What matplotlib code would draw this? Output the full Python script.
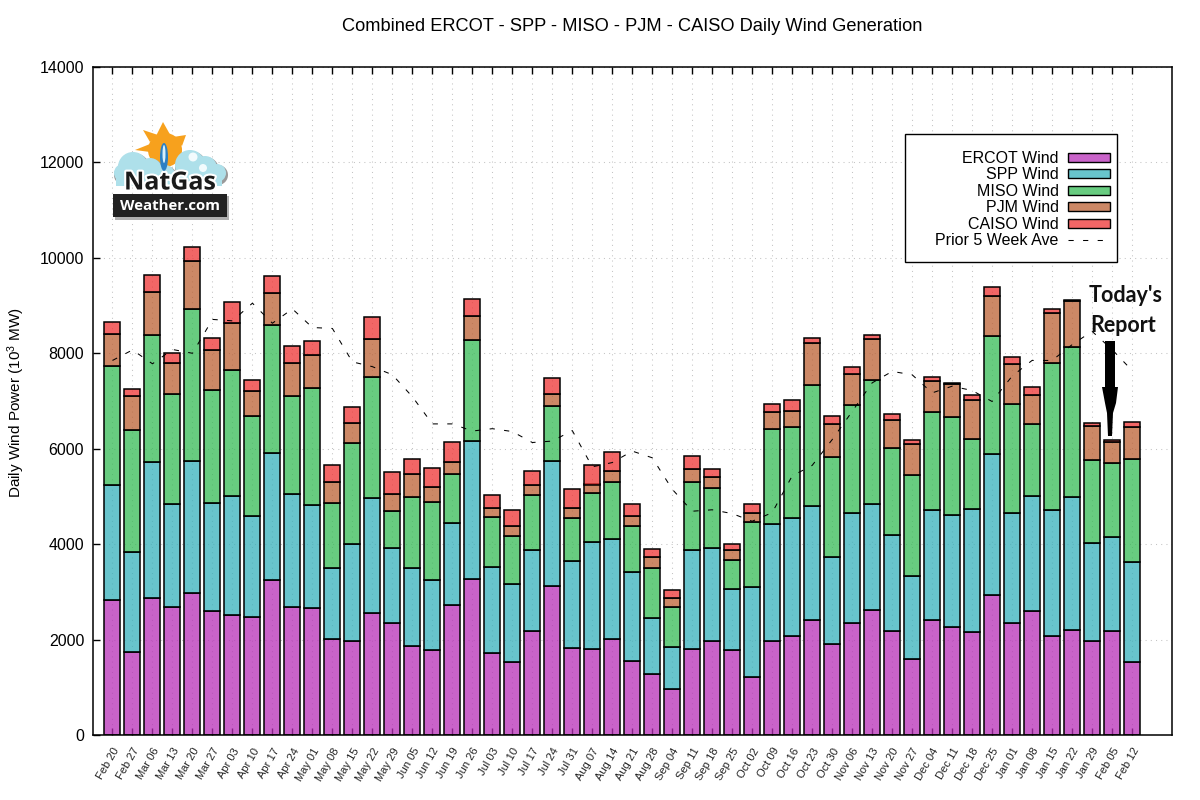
import matplotlib
matplotlib.use('Agg')
import matplotlib.pyplot as plt
import matplotlib.patheffects as pe
from matplotlib.colors import to_rgba
from matplotlib.patches import Rectangle, Circle, Polygon, Ellipse, Patch
from matplotlib.lines import Line2D
from matplotlib.transforms import ScaledTranslation
import numpy as np

# Weekly labels along the x axis
weeks = ['Feb 20','Feb 27','Mar 06','Mar 13','Mar 20','Mar 27','Apr 03','Apr 10','Apr 17','Apr 24',
         'May 01','May 08','May 15','May 22','May 29','Jun 05','Jun 12','Jun 19','Jun 26','Jul 03',
         'Jul 10','Jul 17','Jul 24','Jul 31','Aug 07','Aug 14','Aug 21','Aug 28','Sep 04','Sep 11',
         'Sep 18','Sep 25','Oct 02','Oct 09','Oct 16','Oct 23','Oct 30','Nov 06','Nov 13','Nov 20',
         'Nov 27','Dec 04','Dec 11','Dec 18','Dec 25','Jan 01','Jan 08','Jan 15','Jan 22','Jan 29',
         'Feb 05','Feb 12']

ercot = [2830,1730,2870,2690,2980,2600,2520,2480,3250,2690,2670,2020,1980,2560,2350,1870,1790,2730,3270,1710,
         1540,2170,3120,1830,1810,2020,1560,1270,960,1810,1960,1790,1210,1960,2080,2420,1900,2350,2620,2170,
         1600,2420,2270,2150,2940,2350,2600,2080,2210,1980,2170,1540]
spp = [2420,2100,2860,2160,2770,2270,2480,2120,2650,2370,2160,1480,2020,2400,1570,1630,1460,1710,2900,1810,
       1630,1710,2630,1820,2230,2080,1860,1190,890,2070,1960,1270,1890,2460,2460,2370,1830,2300,2230,2020,
       1730,2290,2350,2580,2940,2300,2400,2630,2770,2040,1980,2080]
miso = [2480,2560,2650,2290,3180,2360,2660,2080,2690,2040,2440,1360,2120,2540,770,1480,1630,1020,2110,1040,
        1000,1160,1150,890,1040,1210,960,1040,840,1430,1250,610,1360,2000,1910,2550,2100,2270,2580,1830,
        2110,2060,2050,1480,2480,2290,1520,3090,3150,1750,1560,2170]
pjm = [670,710,900,650,1000,840,970,540,680,690,690,440,410,800,370,480,320,270,500,190,
       210,190,250,210,170,230,200,230,190,270,230,210,190,350,350,880,690,640,860,580,
       660,640,680,810,840,830,610,1040,960,700,440,660]
caiso = [250,150,360,210,300,250,440,230,350,360,290,350,340,460,460,320,390,420,350,270,
         330,310,330,400,400,400,270,170,160,270,180,120,200,170,220,100,160,160,90,120,
         80,90,30,110,190,150,170,80,20,60,40,110]
prior_ave = [7850,8070,7780,8080,8000,8710,8680,9050,8630,8930,8540,8520,7820,7720,7550,7090,6520,6520,6370,6420,
             6360,6130,6160,6380,5620,5710,5950,5810,5150,4690,4720,4640,4480,4660,5430,5650,6190,6780,7380,7620,
             7550,7170,7310,7220,6990,7520,7850,7850,8180,8460,8080,7640]

series_names = ['ERCOT Wind', 'SPP Wind', 'MISO Wind', 'PJM Wind', 'CAISO Wind']
series_colors = ['#b72fb7', '#36b0bb', '#36bb56', '#bb6033', '#ee3333']

plt.rcParams['font.family'] = ['Liberation Sans', 'DejaVu Sans']
plt.rcParams['mathtext.default'] = 'regular'

fig = plt.figure(figsize=(12, 8), dpi=100)
ax = fig.add_axes([92.5/1200, 1-735/800, 1079.5/1200, 668/800])

x = np.arange(len(weeks))
bottom = np.zeros(len(weeks))
for values, name, color in zip([ercot, spp, miso, pjm, caiso], series_names, series_colors):
    ax.bar(x, values, 0.8, bottom=bottom, facecolor=to_rgba(color, 0.75), edgecolor='k',
           linewidth=1.1, zorder=2)
    bottom = bottom + np.array(values)

ax.plot(x, prior_ave, color='k', lw=0.75, linestyle=(0, (5, 9)), zorder=3)

ax.set_xlim(-1, 53)
ax.set_ylim(0, 14000)
ax.set_yticks(np.arange(0, 14001, 2000))
ax.set_xticks(x)
ax.set_xticklabels(weeks, rotation=60, ha='right', rotation_mode='anchor', fontsize=8, color='#222222')
shift = ScaledTranslation(-2/100, 0, fig.dpi_scale_trans)
for label in ax.get_xticklabels():
    label.set_transform(label.get_transform() + shift)
ax.tick_params(axis='x', direction='in', length=5, width=1, top=True, pad=8)
ax.tick_params(axis='y', direction='in', length=5, width=1, labelsize=11.5, pad=6)
ax.grid(True, color='#c4c4c4', lw=0.75, linestyle=(0, (1, 4)))
ax.set_axisbelow(True)
for s in ax.spines.values():
    s.set_linewidth(1.1)

ax.set_title('Combined ERCOT - SPP - MISO - PJM - CAISO Daily Wind Generation', fontsize=13.15, pad=26)
ax.set_ylabel('Daily Wind Power (10$^3$ MW)', fontsize=11, va='center')
ax.yaxis.set_label_coords((16-92.5)/1079.5, (735-403)/668)

# overlay in pixel coordinates for legend box, logo and arrow
ov = fig.add_axes([0, 0, 1, 1], facecolor='none', zorder=5)
ov.set_xlim(0, 1200)
ov.set_ylim(800, 0)
ov.axis('off')

ov.add_patch(Rectangle((905, 134), 212, 128, facecolor='w', edgecolor='k', lw=1.0, zorder=1))
handles = [Patch(facecolor=to_rgba(c, 0.75), edgecolor='k', lw=1.0) for c in series_colors]
handles.append(Line2D([], [], color='k', lw=0.75, linestyle=(0, (5, 9))))
ov.legend(handles, series_names + ['Prior 5 Week Ave'], loc='upper right', markerfirst=False, frameon=False,
          fontsize=11.5, bbox_to_anchor=(1110/1200, 1-151/800), borderpad=0, borderaxespad=0,
          labelspacing=0.09, handlelength=2.62, handleheight=0.5, handletextpad=0.6)

# Today's report arrow
ov.text(1125.5, 295, "Today's", family=['Lato', 'DejaVu Sans'], fontweight='bold', fontsize=15.5,
        ha='center', va='center', color='#111111', zorder=3)
ov.text(1123, 325, 'Report', family=['Lato', 'DejaVu Sans'], fontweight='bold', fontsize=15.5,
        ha='center', va='center', color='#111111', zorder=3)
ov.add_patch(Polygon([(1105, 341), (1115, 341), (1115, 387), (1118, 387), (1116, 403), (1113, 413), (1112, 436),
                      (1108, 436), (1107, 413), (1105, 403), (1102, 387), (1105, 387)],
                     facecolor='k', edgecolor='none', zorder=3))

# NatGas logo
sun = '#f7a11d'
ov.add_patch(Polygon([(155, 138), (163, 122), (172, 138)], facecolor=sun, edgecolor='none', zorder=2))
ov.add_patch(Polygon([(143, 130), (158, 135), (150, 142)], facecolor=sun, edgecolor='none', zorder=2))
ov.add_patch(Polygon([(186, 135), (173, 137), (182, 146)], facecolor=sun, edgecolor='none', zorder=2))
ov.add_patch(Polygon([(135, 150), (150, 144), (150, 152)], facecolor=sun, edgecolor='none', zorder=2))
ov.add_patch(Circle((165, 150), 17, facecolor=sun, edgecolor='none', zorder=2))
cloud = [(123, 173, 9), (133, 167, 15), (150, 170, 12), (165, 175, 10), (190, 165, 15), (205, 168, 12), (217, 173, 9)]
for cx, cy, r in cloud:
    ov.add_patch(Circle((cx+1, cy+2), r+1, facecolor='#9a9a9a', edgecolor='none', zorder=2))
for cx, cy, r in cloud:
    ov.add_patch(Circle((cx, cy), r, facecolor='#aee0ea', edgecolor='none', zorder=2.1))
ov.add_patch(Rectangle((116, 172), 106, 14, facecolor='#aee0ea', edgecolor='none', zorder=2.1))
ov.add_patch(Ellipse((164, 157), 8, 28, facecolor='#2b80c4', edgecolor='none', zorder=2.2))
ov.add_patch(Ellipse((164, 154), 3, 18, facecolor='#d7effa', edgecolor='none', zorder=2.3))
ov.add_patch(Circle((193, 157), 4.5, facecolor='#f2fbfd', edgecolor='none', zorder=2.2))
ov.add_patch(Circle((203, 168), 4, facecolor='#f2fbfd', edgecolor='none', zorder=2.2))
ov.add_patch(Rectangle((115, 196), 114, 24, facecolor='#b0b0b0', edgecolor='none', zorder=2.3))
ov.add_patch(Rectangle((113, 194), 114, 23, facecolor='#222222', edgecolor='none', zorder=2.4))
ov.text(170, 183, 'NatGas', family=['Open Sans', 'DejaVu Sans'], fontweight='bold', fontsize=18, ha='center',
        va='center', color='#1a1a1a', zorder=2.5,
        path_effects=[pe.withStroke(linewidth=3, foreground='white')])
ov.text(170, 205.5, 'Weather.com', family=['Open Sans', 'DejaVu Sans'], fontweight='bold', fontsize=10.8, ha='center',
        va='center', color='white', zorder=2.6)

fig.savefig('out.png', dpi=100)
